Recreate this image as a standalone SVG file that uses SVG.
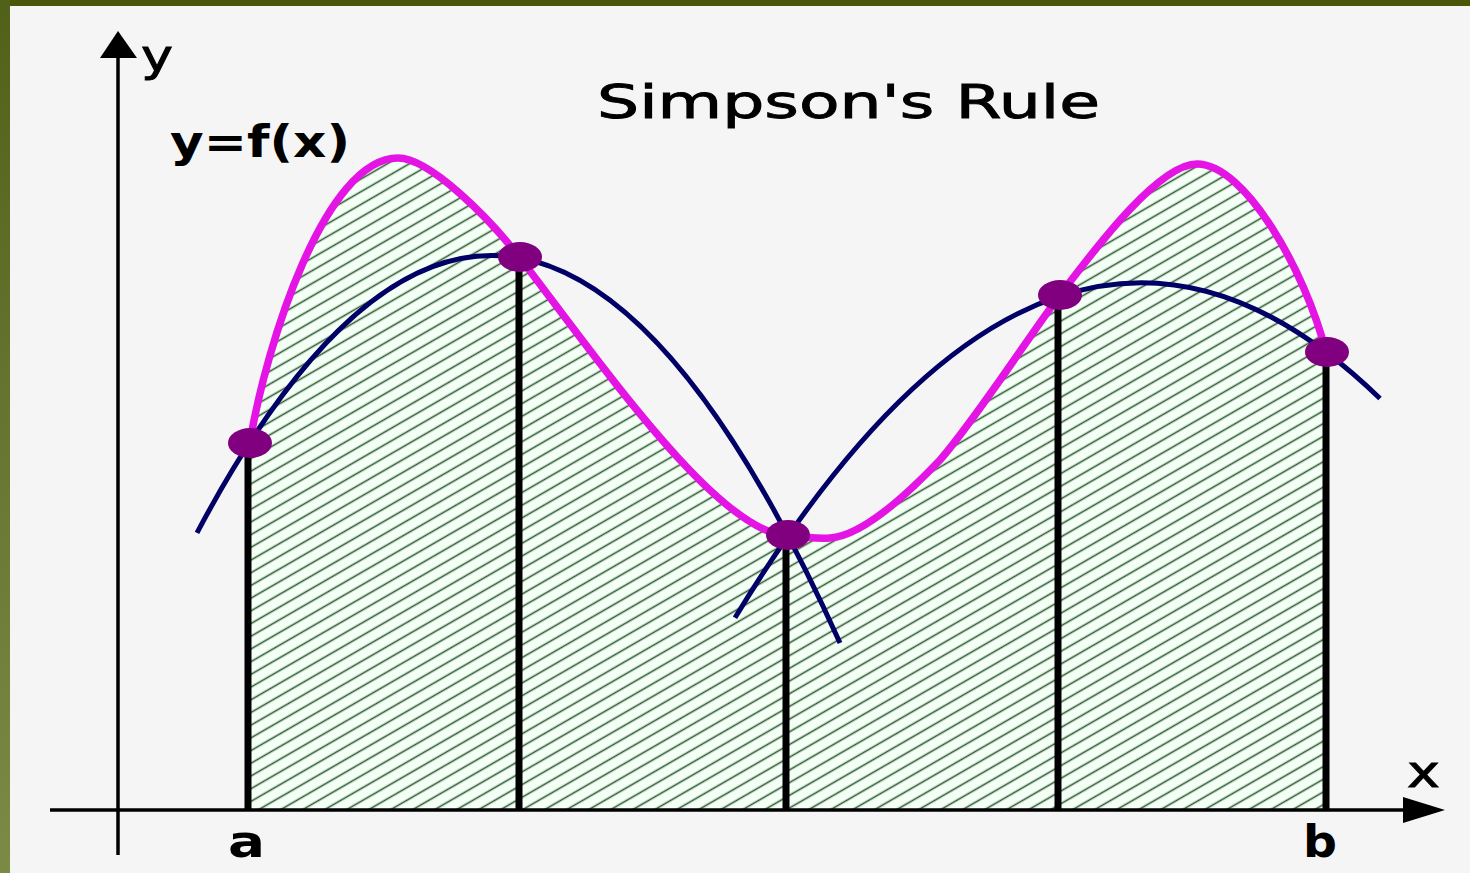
<svg xmlns="http://www.w3.org/2000/svg" width="1470" height="873" viewBox="0 0 1470 873">
<defs>
<linearGradient id="leftBand" x1="0" y1="0" x2="0" y2="1">
<stop offset="0" stop-color="#52611a"/>
<stop offset="1" stop-color="#7b8a45"/>
</linearGradient>
<pattern id="hatch" width="11" height="11" patternUnits="userSpaceOnUse" patternTransform="rotate(-30)">
<rect width="11" height="11" fill="#f4fff6"/>
<line x1="0" y1="5.5" x2="11" y2="5.5" stroke="#2e5a32" stroke-width="1.6"/>
</pattern>
<style>
.axis{stroke:#000;stroke-width:3.5;fill:none}
.ord{stroke:#000;stroke-width:7;fill:none}
.para{stroke:#000066;stroke-width:5;fill:none;stroke-linecap:butt}
.fx{stroke:#e414e4;stroke-width:7.5;fill:none;stroke-linejoin:round}
.dot{fill:#800080}
.lbl{font-family:"DejaVu Sans","Liberation Sans",sans-serif;fill:#000}
.thick{stroke:#000;stroke-width:0.9}
</style>
</defs>
<rect x="0" y="0" width="1470" height="873" fill="#f5f5f5"/>
<rect x="0" y="0" width="1470" height="6" fill="#495708"/>
<rect x="0" y="0" width="10" height="873" fill="url(#leftBand)"/>

<g id="area">
<path fill="url(#hatch)" d="M250,442 C266,345 325,158 398,158 C430,158 490,219 520,258 C600,362 720,536 790,536 C810,537 830,538 830,538 C860,536 900,502 940,460 C975,420 1030,335 1060,295 C1100,242 1160,164 1197,164 C1245,164 1305,270 1326,352 L1326,810 L248,810 L248,442 Z"/>
</g>

<g id="ordinates">
<line class="ord" x1="248" y1="442" x2="248" y2="810"/>
<line class="ord" x1="519" y1="258" x2="519" y2="810"/>
<line class="ord" x1="786" y1="536" x2="786" y2="810"/>
<line class="ord" x1="1058" y1="296" x2="1058" y2="810"/>
<line class="ord" x1="1326" y1="352" x2="1326" y2="810"/>
</g>

<g id="axes">
<line class="axis" x1="118" y1="855" x2="118" y2="50"/>
<polygon points="118,31 100,58 137,58" fill="#000"/>
<line class="axis" x1="50" y1="810" x2="1410" y2="810"/>
<polygon points="1445,810 1403,797 1403,823" fill="#000"/>
</g>

<g id="connectors">
<path id="parabola1" class="para" d="M197,532.8 Q518.5,-72.5 840,643.1"/>
<path id="parabola2" class="para" d="M735,617.8 Q1057.5,85.6 1380,398.5"/>
<path id="fcurve" class="fx" d="M250,442 C266,345 325,158 398,158 C430,158 490,219 520,258 C600,362 720,536 790,536 C810,537 815,539 830,538 C860,536 900,502 940,460 C975,420 1030,335 1060,295 C1100,242 1160,164 1197,164 C1245,164 1305,270 1326,352"/>
</g>

<g id="p0"><ellipse class="dot" cx="250" cy="443" rx="22" ry="15"/></g>
<g id="p1"><ellipse class="dot" cx="520" cy="257" rx="22" ry="15"/></g>
<g id="p2"><ellipse class="dot" cx="788" cy="535" rx="22" ry="15"/></g>
<g id="p3"><ellipse class="dot" cx="1060" cy="295" rx="22" ry="15"/></g>
<g id="p4"><ellipse class="dot" cx="1327" cy="352" rx="22" ry="15"/></g>

<g id="labels">
<text class="lbl thick" x="597" y="118" font-size="46" textLength="503" lengthAdjust="spacingAndGlyphs">Simpson's Rule</text>
<text class="lbl" x="170" y="157" font-size="44" font-weight="bold" textLength="180" lengthAdjust="spacingAndGlyphs">y=f(x)</text>
<text class="lbl thick" x="141" y="71" font-size="44" textLength="32" lengthAdjust="spacingAndGlyphs">y</text>
<text class="lbl thick" x="1407" y="787" font-size="44" textLength="33" lengthAdjust="spacingAndGlyphs">x</text>
<text class="lbl" x="228" y="857" font-size="44" font-weight="bold" textLength="37" lengthAdjust="spacingAndGlyphs">a</text>
<text class="lbl" x="1303" y="857" font-size="44" font-weight="bold" textLength="34" lengthAdjust="spacingAndGlyphs">b</text>
</g>
</svg>
